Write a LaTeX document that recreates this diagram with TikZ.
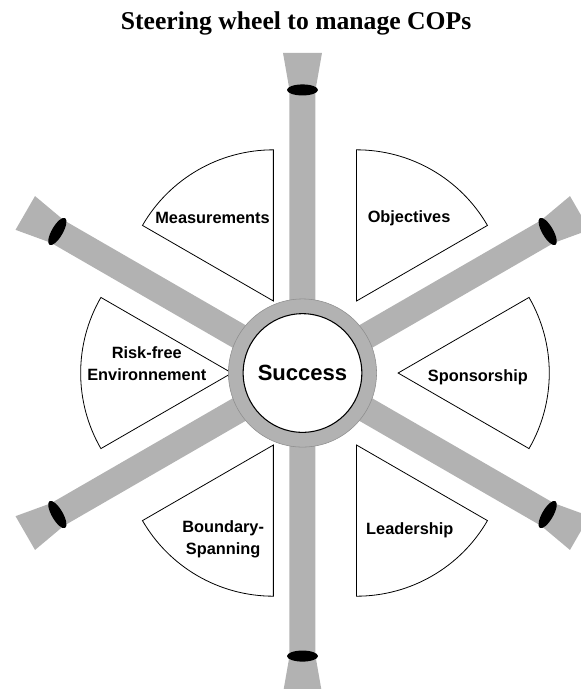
\documentclass[tikz,border=0pt]{standalone}
\usepackage{fontspec}
\setmainfont{Liberation Serif}
\setsansfont{Liberation Sans}
\usetikzlibrary{calc, positioning}
\definecolor{spokegray}{RGB}{178,178,178}

\begin{document}
\begin{tikzpicture}[
    spoke/.style={fill=spokegray},
    grip/.style={fill=black},
    sector/.style={draw, fill=white, line width=0.6pt},
    label/.style={font=\sffamily\bfseries\fontsize{12.3}{16.5}\selectfont, align=center}]
        \useasboundingbox (-8.004,-8.361) rectangle (7.343,9.870);

        \node (title) [anchor=base, font=\bfseries\fontsize{19.3}{23}\selectfont] at (-0.17,9.10) {Steering wheel to manage COPs};

        % spokes with their grips
        \foreach \a in {30,90,...,330} {
            \fill[spoke, rotate=\a] (0,-0.344) -- (7.49,-0.344) -- (8.47,-0.516) -- (8.47,0.516) -- (7.49,0.344) -- (0,0.344) -- cycle;
            \fill[grip, rotate=\a] (7.49,0) ellipse [x radius=0.146, y radius=0.41];
        }

        % sectors between the spokes
        \coordinate (mid) at (0.33,0);
        \foreach \b in {0,60,...,300}
            \draw[sector] ($(mid)+(\b:2.2)$) -- ++(\b-30:4.0) arc[start angle=\b-30, end angle=\b+30, radius=4.0] -- cycle;

        \node (hub) [circle, fill=spokegray, draw=gray!90, line width=0.4pt, minimum size=3.92cm, inner sep=0pt] at (0,0) {};
        \node (success) [circle, draw, fill=white, line width=0.8pt, minimum size=3.14cm, inner sep=0pt, font=\sffamily\bfseries\fontsize{16.6}{20}\selectfont] at (hub) {Success};

        \node (obj) [label] at (2.82,4.10) {Objectives};
        \node (meas) [label] at (-2.38,4.10) {Measurements};
        \node (risk) [label] at (-4.12,0.24) {Risk-free\\Environnement};
        \node (spons) [label] at (4.64,-0.11) {Sponsorship};
        \node (bound) [label] at (-2.10,-4.39) {Boundary-\\Spanning};
        \node (lead) [label] at (2.84,-4.15) {Leadership};

        \end{tikzpicture}
\end{document}
